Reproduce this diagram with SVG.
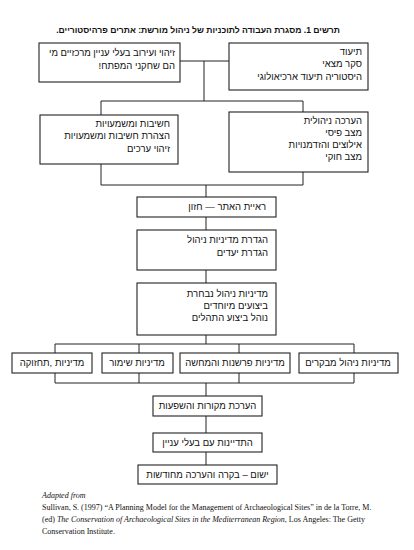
<svg xmlns="http://www.w3.org/2000/svg" width="414" height="550" viewBox="0 0 414 550">
<style>
.bg{fill:#ffffff}
.box{fill:#ffffff;stroke:#222;stroke-width:1.1}
.ln{stroke:#222;stroke-width:1;fill:none}
.he{font-family:"Liberation Sans","DejaVu Sans",Arial,sans-serif;font-size:9.5px;fill:#111;direction:rtl;unicode-bidi:embed;text-anchor:start}
.hc{font-family:"Liberation Sans","DejaVu Sans",Arial,sans-serif;font-size:9.5px;fill:#111;direction:rtl;unicode-bidi:embed;text-anchor:middle}
.title{font-family:"Liberation Sans","DejaVu Sans",Arial,sans-serif;font-size:8.6px;font-weight:bold;fill:#111;direction:rtl;unicode-bidi:embed;text-anchor:start}
.ft{font-family:"Liberation Serif","Times New Roman",serif;font-size:8px;fill:#111}
.it{font-style:italic}
</style>
<rect class="bg" x="0" y="0" width="414" height="550"/>
<text class="title" x="340" y="33">תרשים 1. מסגרת העבודה לתוכניות של ניהול מורשת: אתרים פרהיסטוריים.</text>

<g id="connectors">
<line class="ln" x1="180" y1="61" x2="229" y2="61"/>
<line class="ln" x1="204" y1="61" x2="204" y2="101"/>
<line class="ln" x1="101" y1="101" x2="303" y2="101"/>
<line class="ln" x1="101" y1="101" x2="101" y2="115"/>
<line class="ln" x1="303" y1="101" x2="303" y2="112"/>
<line class="ln" x1="101" y1="164" x2="101" y2="185"/>
<line class="ln" x1="303" y1="172" x2="303" y2="185"/>
<line class="ln" x1="101" y1="185" x2="303" y2="185"/>
<line class="ln" x1="206" y1="185" x2="206" y2="197"/>
<line class="ln" x1="206" y1="217" x2="206" y2="230"/>
<line class="ln" x1="206" y1="270" x2="206" y2="283"/>
<line class="ln" x1="206" y1="335" x2="206" y2="344"/>
<line class="ln" x1="55" y1="344" x2="354" y2="344"/>
<line class="ln" x1="55" y1="344" x2="55" y2="353"/>
<line class="ln" x1="139" y1="344" x2="139" y2="353"/>
<line class="ln" x1="239" y1="344" x2="239" y2="353"/>
<line class="ln" x1="354" y1="344" x2="354" y2="353"/>
<line class="ln" x1="55" y1="373" x2="55" y2="383"/>
<line class="ln" x1="139" y1="373" x2="139" y2="383"/>
<line class="ln" x1="239" y1="373" x2="239" y2="383"/>
<line class="ln" x1="354" y1="373" x2="354" y2="383"/>
<line class="ln" x1="55" y1="383" x2="354" y2="383"/>
<line class="ln" x1="206" y1="383" x2="206" y2="396"/>
<line class="ln" x1="206" y1="416" x2="206" y2="433"/>
<line class="ln" x1="206" y1="452" x2="206" y2="465"/>
</g>

<g id="stakeholders">
<rect class="box" x="39" y="43" width="141" height="39"/>
<text class="he" x="175" y="56" textLength="126" lengthAdjust="spacing">זיהוי ועירוב בעלי עניין מרכזיים מי</text>
<text class="he" x="175" y="69">הם שחקני המפתח!</text>
</g>

<g id="documentation">
<rect class="box" x="229" y="43" width="139" height="47"/>
<text class="he" x="362" y="55">תיעוד</text>
<text class="he" x="362" y="67">סקר מצאי</text>
<text class="he" x="362" y="80">היסטוריה תיעוד ארכיאולוגי</text>
</g>

<g id="significance">
<rect class="box" x="40" y="115" width="138" height="49"/>
<text class="he" x="170" y="127">חשיבות ומשמעויות</text>
<text class="he" x="170" y="139">הצהרת חשיבות ומשמעויות</text>
<text class="he" x="170" y="152">זיהוי ערכים</text>
</g>

<g id="management-assessment">
<rect class="box" x="229" y="112" width="139" height="60"/>
<text class="he" x="362" y="124">הערכה ניהולית</text>
<text class="he" x="362" y="136">מצב פיסי</text>
<text class="he" x="362" y="148">אילוצים והזדמנויות</text>
<text class="he" x="362" y="160">מצב חוקי</text>
</g>

<g id="vision">
<rect class="box" x="137" y="197" width="139" height="20"/>
<text class="he" x="266" y="210">ראיית האתר — חזון</text>
</g>

<g id="policy-definition">
<rect class="box" x="137" y="230" width="139" height="40"/>
<text class="he" x="268" y="243">הגדרת מדיניות ניהול</text>
<text class="he" x="268" y="256">הגדרת יעדים</text>
</g>

<g id="selected-policy">
<rect class="box" x="137" y="283" width="139" height="52"/>
<text class="he" x="268" y="297">מדיניות ניהול נבחרת</text>
<text class="he" x="268" y="309">ביצועים מיוחדים</text>
<text class="he" x="268" y="321">נוהל ביצוע התהלים</text>
</g>

<g id="maintenance-policy">
<rect class="box" x="12" y="353" width="80" height="20"/>
<text class="hc" x="52" y="366">מדיניות ,תחזוקה</text>
</g>

<g id="conservation-policy">
<rect class="box" x="102" y="353" width="71" height="20"/>
<text class="hc" x="137" y="366">מדיניות שימור</text>
</g>

<g id="interpretation-policy">
<rect class="box" x="180" y="353" width="110" height="20"/>
<text class="hc" x="235" y="366">מדיניות פרשנות והמחשה</text>
</g>

<g id="visitor-policy">
<rect class="box" x="299" y="353" width="99" height="20"/>
<text class="hc" x="348" y="366">מדיניות ניהול מבקרים</text>
</g>

<g id="resources">
<rect class="box" x="153" y="396" width="109" height="20"/>
<text class="hc" x="207.5" y="409">הערכת מקורות והשפעות</text>
</g>

<g id="consultation">
<rect class="box" x="153" y="433" width="109" height="19"/>
<text class="hc" x="207.5" y="446">התדיינות עם בעלי עניין</text>
</g>

<g id="implementation">
<rect class="box" x="138" y="465" width="139" height="19"/>
<text class="hc" x="207.5" y="478">ישום – בקרה והערכה מחודשות</text>
</g>

<g id="source">
<text class="ft it" x="42" y="498">Adapted from</text>
<text class="ft" x="42" y="510">Sullivan, S. (1997) “A Planning Model for the Management of Archaeological Sites” in de la Torre, M.</text>
<text class="ft" x="42" y="522">(ed) <tspan class="it">The Conservation of Archaeological Sites in the Mediterranean Region</tspan>, Los Angeles: The Getty</text>
<text class="ft" x="42" y="534">Conservation Institute.</text>
</g>
</svg>
